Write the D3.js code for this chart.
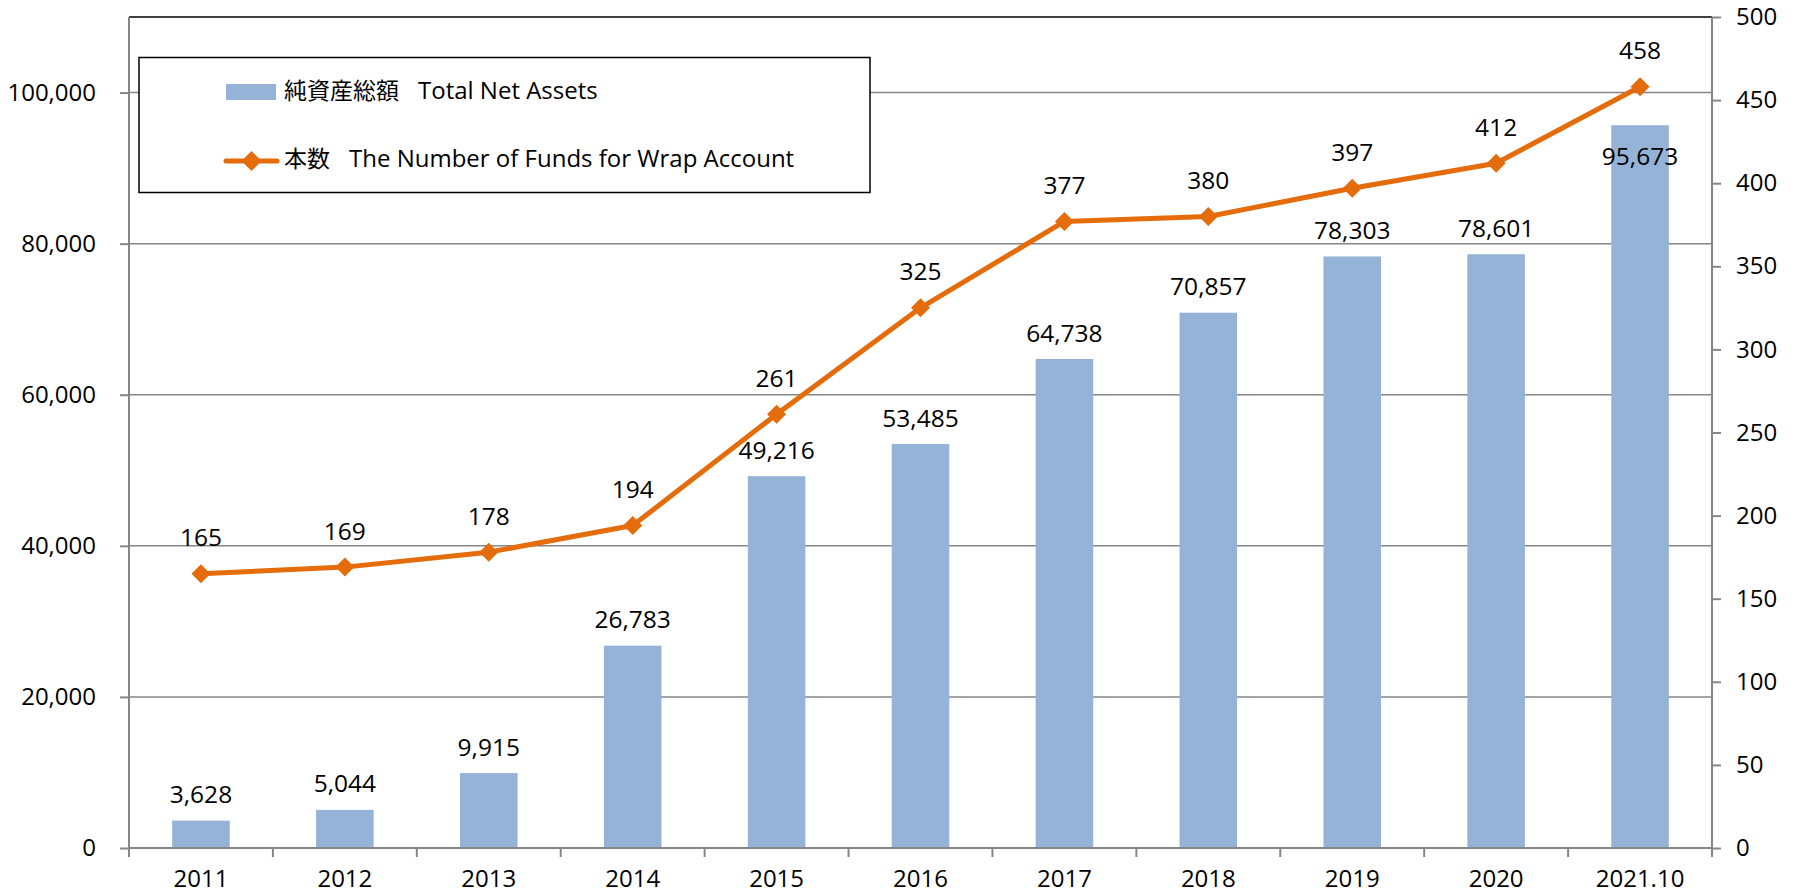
<!DOCTYPE html>
<html>
<head>
<meta charset="utf-8">
<script src="https://cdn.jsdelivr.net/npm/d3@7"></script>
<style>
  html, body { margin: 0; padding: 0; background: #fff; }
  svg { display: block; }
  text { font-family: "Open Sans", "Noto Sans CJK JP", sans-serif; fill: #000; }
</style>
</head>
<body>
<svg id="chart" width="1796" height="894"></svg>
<script>
const categories = ["2011", "2012", "2013", "2014", "2015", "2016", "2017", "2018", "2019", "2020", "2021.10"];
const totalNetAssets = [3628, 5044, 9915, 26783, 49216, 53485, 64738, 70857, 78303, 78601, 95673];
const numberOfFunds = [165, 169, 178, 194, 261, 325, 377, 380, 397, 412, 458];
const leftTicks = [0, 20000, 40000, 60000, 80000, 100000];
const rightTicks = [0, 50, 100, 150, 200, 250, 300, 350, 400, 450, 500];
const legendBarJa = "純資産総額";
const legendBarEn = "Total Net Assets";
const legendLineJa = "本数";
const legendLineEn = "The Number of Funds for Wrap Account";

const W = 1796, H = 894;
const m = { left: 129, right: 1712, top: 17, bottom: 848 };
const barColor = "#95B3D7";
const lineColor = "#E46C0A";
const axisColor = "#868686";
const fsAxis = 24;
const fsLabel = 24.5;
const fsLegendEn = 24;
const fsLegendJa = 23;

const svg = d3.select("#chart");

const x = d3.scaleBand().domain(categories).range([m.left, m.right]).padding(0);
const yL = d3.scaleLinear().domain([0, 110000]).range([m.bottom, m.top]);
const yR = d3.scaleLinear().domain([0, 500]).range([m.bottom, m.top]);
const bw = x.bandwidth() * 0.4;
const cx = d => x(d) + x.bandwidth() / 2;
const fmt = d3.format(",");

// gridlines
svg.append("g").selectAll("line").data(leftTicks.filter(t => t > 0)).join("line")
  .attr("x1", m.left).attr("x2", m.right)
  .attr("y1", d => yL(d)).attr("y2", d => yL(d))
  .attr("stroke", axisColor).attr("stroke-width", 1.5);

// plot area top border
svg.append("line").attr("x1", m.left).attr("x2", m.right).attr("y1", m.top).attr("y2", m.top)
  .attr("stroke", "#000").attr("stroke-width", 1.5);

// bars
svg.append("g").selectAll("rect").data(categories).join("rect")
  .attr("x", d => cx(d) - bw / 2)
  .attr("width", bw)
  .attr("y", (d, i) => yL(totalNetAssets[i]))
  .attr("height", (d, i) => m.bottom - yL(totalNetAssets[i]))
  .attr("fill", barColor);

// left axis
const gL = svg.append("g").attr("transform", `translate(${m.left},0)`)
  .call(d3.axisLeft(yL).tickValues(leftTicks).tickFormat(fmt).tickSize(9).tickPadding(24));
// right axis
const gR = svg.append("g").attr("transform", `translate(${m.right},0)`)
  .call(d3.axisRight(yR).tickValues(rightTicks).tickSize(9).tickPadding(15));
// bottom axis
const gB = svg.append("g").attr("transform", `translate(0,${m.bottom})`)
  .call(d3.axisBottom(x).tickSize(0).tickPadding(22));
// category boundary ticks
svg.append("g").selectAll("line").data(categories.map(c => x(c)).concat([m.right])).join("line")
  .attr("x1", d => d).attr("x2", d => d)
  .attr("y1", m.bottom).attr("y2", m.bottom + 9)
  .attr("stroke", axisColor).attr("stroke-width", 2);

[gL, gR, gB].forEach(g => {
  g.select(".domain").attr("stroke", axisColor).attr("stroke-width", 2);
  g.selectAll(".tick line").attr("stroke", axisColor).attr("stroke-width", 2);
  g.selectAll(".tick text").attr("font-size", fsAxis).attr("font-family", "'Open Sans', sans-serif").attr("fill", "#000");
});
gL.select(".domain").attr("d", `M0,${m.top}V${m.bottom}`);
gR.select(".domain").attr("d", `M0,${m.top}V${m.bottom}`);
gB.select(".domain").attr("d", `M${m.left},0H${m.right}`);

// line
const line = d3.line().x((d, i) => cx(categories[i])).y(d => yR(d));
svg.append("path").datum(numberOfFunds)
  .attr("d", line).attr("fill", "none")
  .attr("stroke", lineColor).attr("stroke-width", 5).attr("stroke-linejoin", "round");

const diamond = (px, py, r) => `M${px},${py - r}L${px + r},${py}L${px},${py + r}L${px - r},${py}Z`;
svg.append("g").selectAll("path").data(numberOfFunds).join("path")
  .attr("d", (d, i) => diamond(cx(categories[i]), yR(d), 9.5))
  .attr("fill", lineColor);

// bar labels
svg.append("g").selectAll("text").data(totalNetAssets).join("text")
  .attr("x", (d, i) => cx(categories[i]))
  .attr("y", (d, i) => i === totalNetAssets.length - 1 ? yL(d) + 31 : yL(d) - 26)
  .attr("dy", "0.35em")
  .attr("text-anchor", "middle").attr("font-size", fsLabel)
  .text(d => fmt(d));

// line labels
svg.append("g").selectAll("text").data(numberOfFunds).join("text")
  .attr("x", (d, i) => cx(categories[i]))
  .attr("y", (d, i) => yR(d) - 36)
  .attr("dy", "0.35em")
  .attr("text-anchor", "middle").attr("font-size", fsLabel)
  .text(d => d);

// legend
const lg = svg.append("g");
lg.append("rect").attr("x", 139).attr("y", 57.5).attr("width", 731).attr("height", 135)
  .attr("fill", "#fff").attr("stroke", "#000").attr("stroke-width", 1.5);
lg.append("rect").attr("x", 226).attr("y", 84).attr("width", 50).attr("height", 16).attr("fill", barColor);
const t1 = lg.append("text").attr("x", 284).attr("y", 93).attr("dy", "0.35em");
t1.append("tspan").attr("font-family", "'Noto Sans CJK JP', sans-serif").attr("font-size", fsLegendJa).text(legendBarJa);
t1.append("tspan").attr("dx", 19).attr("font-size", fsLegendEn).text(legendBarEn);
lg.append("line").attr("x1", 226).attr("x2", 277).attr("y1", 161).attr("y2", 161)
  .attr("stroke", lineColor).attr("stroke-width", 5).attr("stroke-linecap", "round");
lg.append("path").attr("d", diamond(251.5, 161, 10)).attr("fill", lineColor);
const t2 = lg.append("text").attr("x", 284).attr("y", 161).attr("dy", "0.35em");
t2.append("tspan").attr("font-family", "'Noto Sans CJK JP', sans-serif").attr("font-size", fsLegendJa).text(legendLineJa);
t2.append("tspan").attr("dx", 19).attr("font-size", fsLegendEn).text(legendLineEn);
</script>
</body>
</html>
